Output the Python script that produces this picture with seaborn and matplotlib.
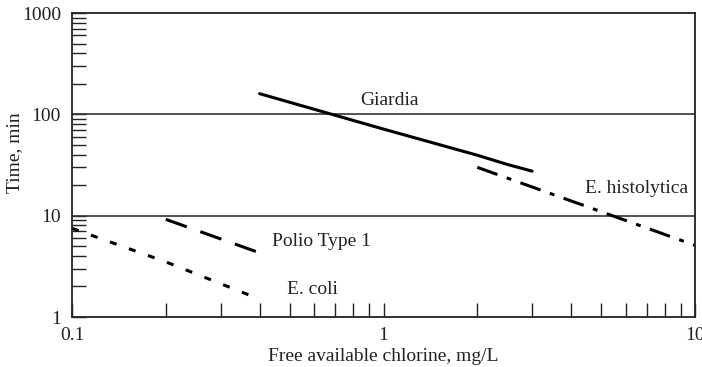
import numpy as np
import pandas as pd
import matplotlib
matplotlib.use("Agg")
import matplotlib.pyplot as plt
from matplotlib.ticker import FixedLocator, FixedFormatter, LogLocator, NullFormatter
import seaborn as sns

# Data
giardia_x = [0.4, 1.0, 2.0, 2.5, 3.0]
giardia_y = [160, 71.5, 39.5, 32, 27.5]
histolytica_x = [2.0, 10.0]
histolytica_y = [30, 5.1]
polio_x = [0.2, 0.4]
polio_y = [9.2, 4.3]
ecoli_x = [0.1, 0.2, 0.4]
ecoli_y = [7.5, 3.5, 1.5]

x_ticks = [0.1, 1, 10]
x_ticklabels = ["0.1", "1", "10"]
y_ticks = [1, 10, 100, 1000]
y_ticklabels = ["1", "10", "100", "1000"]

labels = ["Giardia", "E. histolytica", "Polio Type 1", "E. coli"]
label_x = [0.84, 4.43, 0.4375, 0.49]
label_y = [138, 18.7, 5.5, 1.85]

frames = []
for name, xs, ys in [("Giardia", giardia_x, giardia_y),
                     ("E. histolytica", histolytica_x, histolytica_y),
                     ("Polio Type 1", polio_x, polio_y),
                     ("E. coli", ecoli_x, ecoli_y)]:
    frames.append(pd.DataFrame({"x": xs, "y": ys, "organism": name}))
df = pd.concat(frames, ignore_index=True)

sns.set_theme(style="white")
plt.rcParams["font.family"] = ["Liberation Serif", "DejaVu Serif"]
plt.rcParams["lines.dash_capstyle"] = "butt"

FS = 14

fig = plt.figure(figsize=(7.02, 3.67), dpi=100)
ax = fig.add_axes([72 / 702, 50 / 367, 623 / 702, 304 / 367])
ax.set_xscale("log")
ax.set_yscale("log")

dashes = {"Giardia": "",
          "E. histolytica": (7, 3.2, 1.6, 3.2),
          "Polio Type 1": (7.3, 4.7),
          "E. coli": (2.3, 4.3)}
palette = {k: "black" for k in labels}
sns.lineplot(data=df, x="x", y="y", hue="organism", style="organism",
             dashes=dashes, palette=palette, linewidth=2.2, legend=False,
             ax=ax, sort=False, estimator=None)

for t, lx, ly in zip(labels, label_x, label_y):
    ax.text(lx, ly, t, fontsize=FS, ha="left", va="center", color="#222222")

ax.set_xlim(0.1, 10)
ax.set_ylim(1, 1000)

for yv in [10, 100]:
    ax.axhline(yv, color="#333333", lw=1.2, zorder=1)

ax.xaxis.set_major_locator(FixedLocator(x_ticks))
ax.xaxis.set_major_formatter(FixedFormatter(x_ticklabels))
ax.yaxis.set_major_locator(FixedLocator(y_ticks))
ax.yaxis.set_major_formatter(FixedFormatter(y_ticklabels))
ax.xaxis.set_minor_locator(LogLocator(base=10, subs=np.arange(2, 10)))
ax.yaxis.set_minor_locator(LogLocator(base=10, subs=np.arange(2, 10)))
ax.xaxis.set_minor_formatter(NullFormatter())
ax.yaxis.set_minor_formatter(NullFormatter())

ax.tick_params(axis="both", which="both", direction="in", length=10, width=1.0,
               color="#222222", labelsize=FS, labelcolor="#222222",
               bottom=True, left=True, top=False, right=False)
ax.tick_params(axis="x", which="major", pad=7)
ax.tick_params(axis="y", which="major", pad=8)

for s in ax.spines.values():
    s.set_visible(True)
    s.set_color("#222222")
    s.set_linewidth(1.3)

ax.set_xlabel("Free available chlorine, mg/L", fontsize=FS, color="#222222", labelpad=3)
ax.set_ylabel("Time, min", fontsize=FS, color="#222222")
ax.yaxis.set_label_coords(-0.079, 0.54)

fig.savefig("out.png", dpi=100)
